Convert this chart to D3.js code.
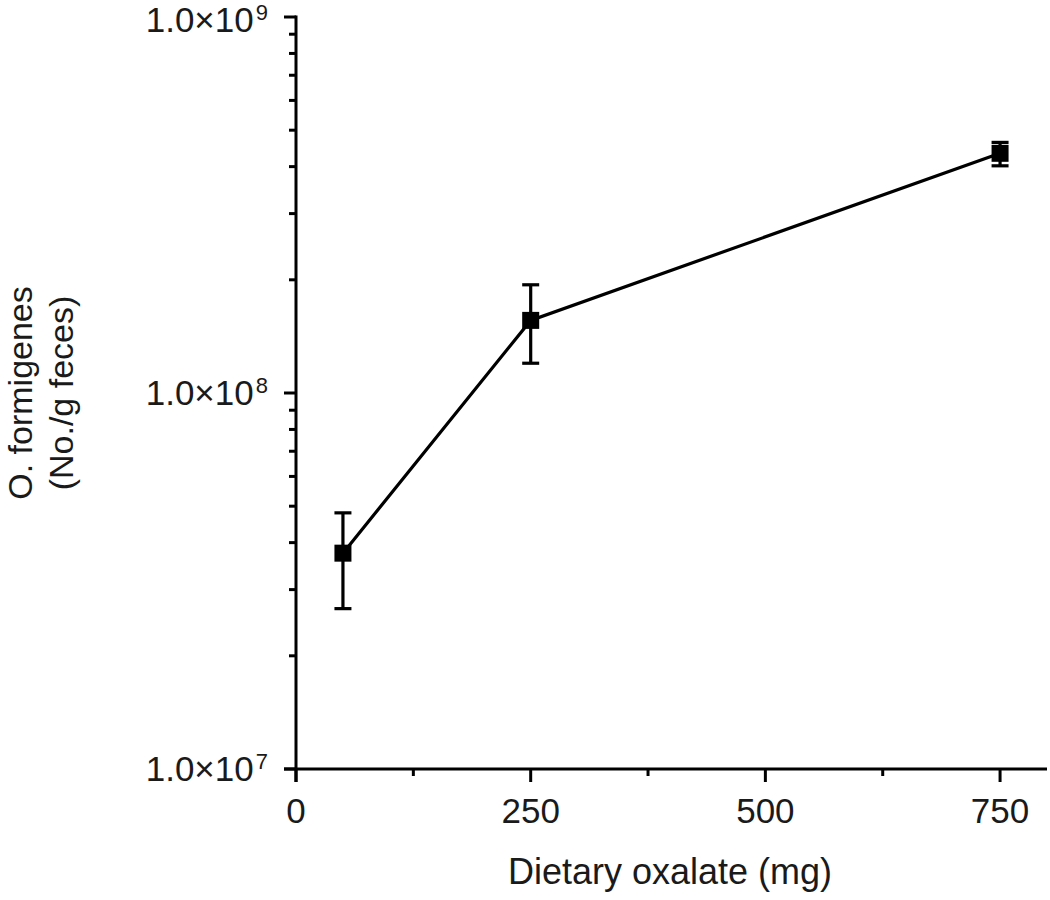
<!DOCTYPE html>
<html><head><meta charset="utf-8">
<script src="https://cdn.jsdelivr.net/npm/d3@7"></script>
<style>body{margin:0;background:#fff}svg{display:block}text{font-family:"Liberation Sans",Arial,sans-serif;fill:#1a1a1a}</style>
</head><body><svg id="c" width="1050" height="900"></svg>
<script>
const doses = [50, 250, 750];
const means = [3.75e7, 1.56e8, 4.34e8];
const upper = [4.8e7, 1.94e8, 4.64e8];
const lower = [2.67e7, 1.2e8, 4.02e8];
const xTicks = [0, 250, 500, 750];
const xMinorTicks = [125, 375, 625];
const yTicks = [1e7, 1e8, 1e9];
const yTickExp = ["7", "8", "9"];
const xTitle = "Dietary oxalate (mg)";
const yTitle = ["O. formigenes", "(No./g feces)"];

const svg = d3.select("#c");
const x = d3.scaleLinear().domain([0, 800]).range([296, 1047]);
const y = d3.scaleLog().domain([1e7, 1e9]).range([769, 17]);
const ink = "#000";

// y axis
const yMinor = [];
[1e7, 1e8].forEach(b => { for (let k = 2; k <= 9; k++) yMinor.push(b * k); });
svg.append("line").attr("x1", x(0)).attr("x2", x(0)).attr("y1", y(1e9) - 1.5).attr("y2", y(1e7) + 13)
  .attr("stroke", ink).attr("stroke-width", 3);
svg.selectAll(".ymaj").data(yTicks).join("line")
  .attr("x1", x(0) - 12).attr("x2", x(0)).attr("y1", d => y(d)).attr("y2", d => y(d))
  .attr("stroke", ink).attr("stroke-width", 3);
svg.selectAll(".ymin").data(yMinor).join("line")
  .attr("x1", x(0) - 7).attr("x2", x(0)).attr("y1", d => y(d)).attr("y2", d => y(d))
  .attr("stroke", ink).attr("stroke-width", 3);
const yl = svg.selectAll(".ylab").data(yTicks).join("text")
  .attr("x", x(0) - 28).attr("y", d => Math.max(y(d) + 12, 32)).attr("text-anchor", "end").attr("font-size", 35);
yl.append("tspan").text("1.0\u00d710");
yl.append("tspan").attr("dy", -12).attr("dx", 2).attr("font-size", 22).text((d, i) => yTickExp[i]);

// x axis
svg.append("line").attr("x1", x(0) - 12).attr("x2", x(800)).attr("y1", y(1e7)).attr("y2", y(1e7))
  .attr("stroke", ink).attr("stroke-width", 3);
svg.selectAll(".xmaj").data(xTicks).join("line")
  .attr("x1", d => x(d)).attr("x2", d => x(d)).attr("y1", y(1e7)).attr("y2", y(1e7) + 13)
  .attr("stroke", ink).attr("stroke-width", 3);
svg.selectAll(".xmin").data(xMinorTicks).join("line")
  .attr("x1", d => x(d)).attr("x2", d => x(d)).attr("y1", y(1e7)).attr("y2", y(1e7) + 7)
  .attr("stroke", ink).attr("stroke-width", 3);
svg.selectAll(".xlab").data(xTicks).join("text")
  .attr("x", d => x(d)).attr("y", 823).attr("text-anchor", "middle").attr("font-size", 35)
  .text(d => d);

svg.append("text").attr("x", 670).attr("y", 884).attr("text-anchor", "middle").attr("font-size", 36).text(xTitle);
yTitle.forEach((t, i) => {
  svg.append("text").attr("transform", `translate(${32 + i * 41},${393}) rotate(-90)`)
    .attr("text-anchor", "middle").attr("font-size", 34).text(t);
});

// line
svg.append("path").datum(doses.map((d, i) => [d, means[i]]))
  .attr("d", d3.line().x(d => x(d[0])).y(d => y(d[1])))
  .attr("fill", "none").attr("stroke", ink).attr("stroke-width", 3.2);

// error bars
const g = svg.selectAll(".err").data(doses).join("g");
g.append("line").attr("x1", d => x(d)).attr("x2", d => x(d))
  .attr("y1", (d, i) => y(upper[i])).attr("y2", (d, i) => y(lower[i]))
  .attr("stroke", ink).attr("stroke-width", 3.2);
g.append("line").attr("x1", d => x(d) - 8.5).attr("x2", d => x(d) + 8.5)
  .attr("y1", (d, i) => y(upper[i])).attr("y2", (d, i) => y(upper[i]))
  .attr("stroke", ink).attr("stroke-width", 3.2);
g.append("line").attr("x1", d => x(d) - 8.5).attr("x2", d => x(d) + 8.5)
  .attr("y1", (d, i) => y(lower[i])).attr("y2", (d, i) => y(lower[i]))
  .attr("stroke", ink).attr("stroke-width", 3.2);
g.append("rect").attr("x", d => x(d) - 8.5).attr("y", (d, i) => y(means[i]) - 8.5)
  .attr("width", 17).attr("height", 17).attr("fill", ink);
</script></body></html>
